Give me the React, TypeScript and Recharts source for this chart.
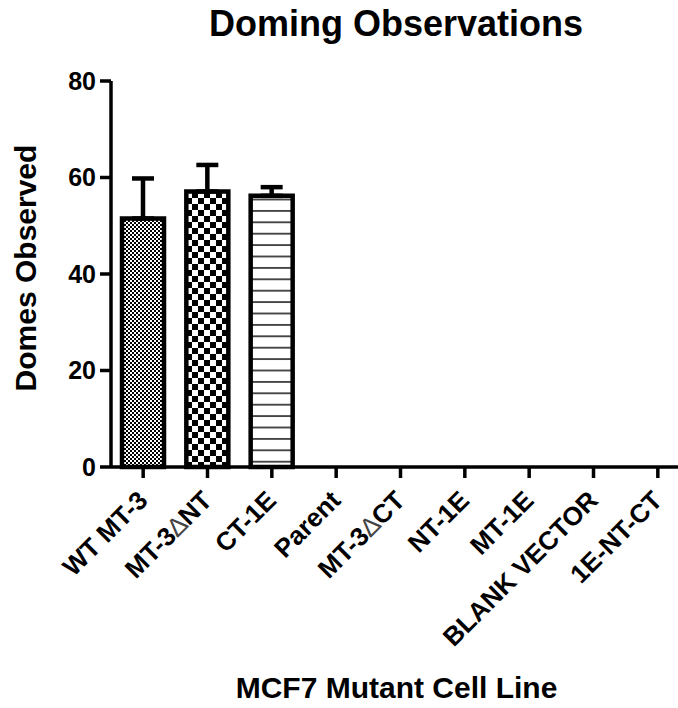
import { BarChart, Bar, XAxis, YAxis, Cell, ErrorBar, Label } from 'recharts'

const cellLines = [
  'WT MT-3',
  'MT-3\u2206NT',
  'CT-1E',
  'Parent',
  'MT-3\u2206CT',
  'NT-1E',
  'MT-1E',
  'BLANK VECTOR',
  '1E-NT-CT',
]
const domes = [51.5, 57.1, 56.2, 0, 0, 0, 0, 0, 0]
const domesSem = [8.3, 5.5, 1.8, null, null, null, null, null, null]
const yTicks = [0, 20, 40, 60, 80]
const fills = ['url(#fineCheck)', 'url(#bigCheck)', 'url(#hLines)']

const FONT = '"Liberation Sans", Arial, Helvetica, sans-serif'
const DELTA = '\u2206'

const data = cellLines.map((name, i) => ({
  name,
  domes: domes[i],
  // only the upper whisker is drawn in the original
  err: domesSem[i] == null ? null : [0, domesSem[i]],
}))

function XTick({ x, y, payload }: any) {
  const parts = String(payload.value).split(DELTA)
  return (
    <g transform={`translate(${x},${y})`}>
      <text
        x={6}
        y={22}
        transform="rotate(-45 6 22)"
        textAnchor="end"
        fill="#000"
        fontSize={26}
        fontWeight="bold"
        fontFamily={FONT}
      >
        {parts.map((p, i) => (
          <tspan key={i}>
            {i > 0 && (
              <tspan fontWeight="normal" fill="#444">
                {DELTA}
              </tspan>
            )}
            {p}
          </tspan>
        ))}
      </text>
    </g>
  )
}

function XTitle({ viewBox }: any) {
  return (
    <text
      x={viewBox.x + viewBox.width / 2 - 4}
      y={viewBox.y + viewBox.height - 10}
      textAnchor="middle"
      fill="#000"
      fontSize={30}
      fontWeight="bold"
      fontFamily={FONT}
    >
      MCF7 Mutant Cell Line
    </text>
  )
}

function YTitle({ viewBox }: any) {
  const cx = 36
  const cy = viewBox.y + viewBox.height / 2 - 6
  return (
    <text
      x={cx}
      y={cy}
      transform={`rotate(-90 ${cx} ${cy})`}
      textAnchor="middle"
      fill="#000"
      fontSize={30}
      fontWeight="bold"
      fontFamily={FONT}
    >
      Domes Observed
    </text>
  )
}

export default function App() {
  return (
    <div
      style={{
        position: 'absolute',
        left: 0,
        top: 0,
        width: 678,
        height: 708,
        overflow: 'hidden',
        background: '#fff',
      }}
    >
      <div
        style={{
          position: 'absolute',
          left: 0,
          top: 6,
          width: 792,
          textAlign: 'center',
          fontFamily: FONT,
          fontWeight: 'bold',
          fontSize: 36,
          lineHeight: '36px',
          color: '#000',
        }}
      >
        Doming Observations
      </div>
      <BarChart
        width={690}
        height={708}
        data={data}
        margin={{ top: 81, right: 0, bottom: 0, left: 0 }}
        barSize={42}
      >
        <defs>
          <pattern id="fineCheck" patternUnits="userSpaceOnUse" width={4} height={4}>
            <rect width={4} height={4} fill="#fff" />
            <rect x={0} y={0} width={2} height={2} fill="#000" />
            <rect x={2} y={2} width={2} height={2} fill="#000" />
          </pattern>
          <pattern id="bigCheck" patternUnits="userSpaceOnUse" width={12} height={12}>
            <rect width={12} height={12} fill="#fff" />
            <rect x={0} y={0} width={6} height={6} fill="#000" />
            <rect x={6} y={6} width={6} height={6} fill="#000" />
          </pattern>
          <pattern id="hLines" patternUnits="userSpaceOnUse" width={8} height={11.4}>
            <rect width={8} height={11.4} fill="#fff" />
            <line x1={0} y1={5.7} x2={8} y2={5.7} stroke="#222" strokeWidth={1.6} />
          </pattern>
        </defs>
        <XAxis
          dataKey="name"
          height={241}
          interval={0}
          tickSize={11}
          tickMargin={2}
          tick={<XTick />}
          axisLine={{ stroke: '#000', strokeWidth: 3.5 }}
          tickLine={{ stroke: '#000', strokeWidth: 3.5 }}
        >
          <Label content={<XTitle />} />
        </XAxis>
        <YAxis
          width={111}
          domain={[0, 80]}
          ticks={yTicks}
          tickSize={11}
          tickMargin={4}
          interval={0}
          tick={{ fill: '#000', fontSize: 25, fontWeight: 'bold', fontFamily: FONT }}
          axisLine={{ stroke: '#000', strokeWidth: 3.5 }}
          tickLine={{ stroke: '#000', strokeWidth: 3.5 }}
        >
          <Label content={<YTitle />} />
        </YAxis>
        <Bar dataKey="domes" stroke="#000" strokeWidth={4.5} isAnimationActive={false}>
          {data.map((d, i) => (
            <Cell key={d.name} fill={fills[i % fills.length]} />
          ))}
          <ErrorBar dataKey="err" direction="y" width={11} stroke="#000" strokeWidth={4.5} />
        </Bar>
      </BarChart>
    </div>
  )
}
